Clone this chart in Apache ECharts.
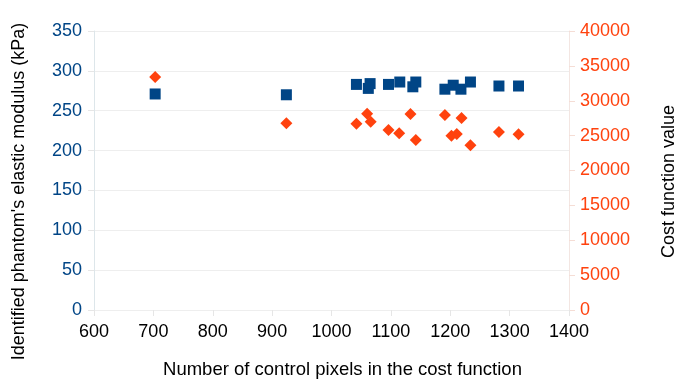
<!DOCTYPE html>
<html>
<head>
<meta charset="utf-8">
<script src="https://cdn.jsdelivr.net/npm/echarts@6/dist/echarts.min.js"></script>
<style>
  html,body{margin:0;padding:0;background:#fff;}
  #chart{width:677px;height:383px;}
</style>
</head>
<body>
<div id="chart"></div>
<script>
// 模量（左轴，方块）
let modulusPixels=[703,924,1042,1062,1065,1096,1115,1137,1142,1191,1205,1218,1234,1282,1315]
let modulusValues=[271,270,283,278,284,283,286,280,286,277,282,277,286,281,281]
// 代价函数（右轴，菱形）
let costPixels=[703,924,1042,1060,1066,1096,1114,1133,1142,1191,1202,1211,1219,1234,1282,1315]
let costValues=[33400,26770,26710,28140,27000,25800,25330,28100,24370,27960,25000,25230,27530,23610,25520,25190]

const blue='#004586'
const orange='#ff420e'
const font='"Liberation Sans", Arial, sans-serif'

function pairs(xs,ys){
  return xs.map((x,i)=>[x,ys[i]])
}
let plain=v=>String(v)

let chart=echarts.init(document.getElementById('chart'))
chart.setOption({
  animation:false,
  grid:{left:94,right:108,top:31,bottom:73,outerBoundsMode:'none',containLabel:false},
  xAxis:{
    type:'value',
    min:600,max:1400,interval:100,
    name:'Number of control pixels in the cost function',
    nameLocation:'middle',
    nameGap:50,
    nameTextStyle:{color:'#000',fontSize:18.5,fontFamily:font,padding:[0,0,0,22]},
    axisLine:{show:false},
    axisTick:{show:true,length:6,lineStyle:{color:'#e6e6e6'}},
    axisLabel:{color:'#000',fontSize:18,fontFamily:font,margin:13,formatter:plain},
    splitLine:{show:false}
  },
  yAxis:[{
    type:'value',
    min:0,max:350,interval:50,
    name:"Identified phantom's elastic modulus (kPa)",
    nameLocation:'middle',
    nameGap:66,
    nameTextStyle:{color:'#000',fontSize:18,fontFamily:font,padding:[0,42,0,0]},
    axisLine:{show:true,lineStyle:{color:'#dde6ea'}},
    axisTick:{show:true,length:6,lineStyle:{color:'#e6e6e6'}},
    axisLabel:{color:blue,fontSize:18,fontFamily:font,margin:12,formatter:plain},
    splitLine:{show:true,lineStyle:{color:'#eeeeee'}}
  },{
    type:'value',
    min:0,max:40000,interval:5000,
    name:'Cost function value',
    nameLocation:'middle',
    nameGap:91,
    nameRotate:90,
    nameTextStyle:{color:'#000',fontSize:18,fontFamily:font,padding:[0,22,0,0]},
    axisLine:{show:true,lineStyle:{color:'#f3e6e2'}},
    axisTick:{show:true,length:6,lineStyle:{color:'#f5ddd5'}},
    axisLabel:{color:orange,fontSize:18,fontFamily:font,margin:11,formatter:plain},
    splitLine:{show:false}
  }],
  series:[{
    name:'modulus',
    type:'scatter',
    yAxisIndex:0,
    symbol:'rect',
    symbolSize:11,
    itemStyle:{color:blue,opacity:1},
    data:pairs(modulusPixels,modulusValues)
  },{
    name:'cost',
    type:'scatter',
    yAxisIndex:1,
    symbol:'diamond',
    symbolSize:12,
    itemStyle:{color:orange,opacity:1},
    data:pairs(costPixels,costValues)
  }]
})
</script>
</body>
</html>
